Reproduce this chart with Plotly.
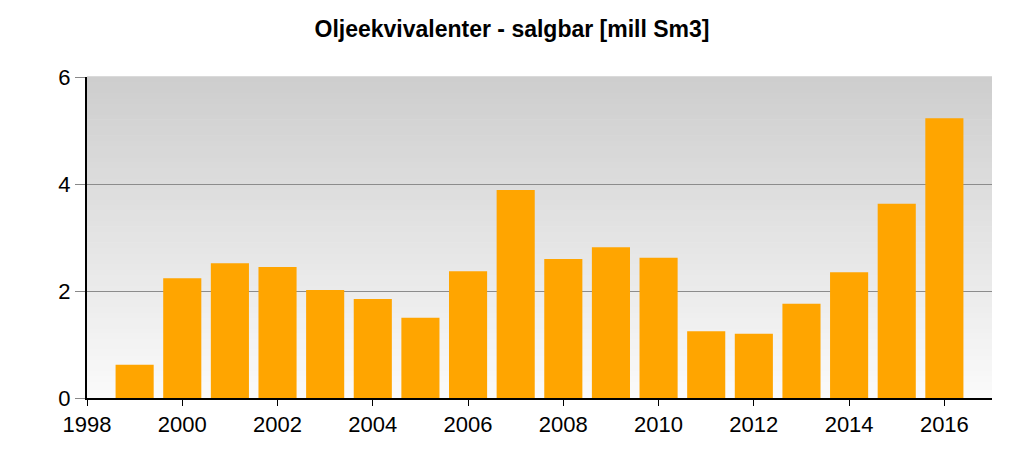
import plotly.graph_objects as go

years = list(range(1999, 2017))
values = [0.62, 2.24, 2.52, 2.45, 2.02, 1.85, 1.50, 2.37, 3.89, 2.60, 2.82, 2.62, 1.25, 1.20, 1.76, 2.35, 3.63, 5.23]
x_ticks = list(range(1998, 2017, 2))
y_ticks = [0, 2, 4, 6]
title = "Oljeekvivalenter - salgbar [mill Sm3]"

fig = go.Figure()
fig.add_trace(go.Bar(x=years, y=values, width=0.8,
                     marker=dict(color="#FFA500", line=dict(width=0))))

# gradient background
n = 60
top = (206, 206, 206)
bot = (250, 250, 250)
shapes = []
for i in range(n):
    t = i / (n - 1)
    c = tuple(int(round(bot[k] + (top[k] - bot[k]) * t)) for k in range(3))
    shapes.append(dict(type="rect", xref="x domain", yref="y domain",
                       x0=0, x1=1, y0=i / n, y1=(i + 1) / n + 0.002,
                       fillcolor="rgb(%d,%d,%d)" % c, line=dict(width=0), layer="below"))

fig.update_layout(
    shapes=shapes,
    width=1024, height=465,
    margin=dict(l=87, r=32, t=77, b=67, autoexpand=False),
    paper_bgcolor="white", plot_bgcolor="rgba(0,0,0,0)",
    title=dict(text="<b>" + title + "</b>", x=0.5, xanchor="center", y=0.937, yanchor="middle",
               font=dict(family="Liberation Sans, Arial", size=23, color="black")),
    font=dict(family="Liberation Sans, Arial", size=22, color="black"),
    showlegend=False,
)
fig.update_xaxes(range=[1998, 2017], tickvals=x_ticks, ticks="outside", ticklen=6,
                 tickcolor="black", showline=True, linecolor="black", linewidth=2,
                 showgrid=False, zeroline=False, tickfont=dict(size=22), automargin=False)
fig.update_yaxes(range=[0, 6], tickvals=y_ticks, ticks="outside", ticklen=10,
                 tickcolor="#888888", showline=True, linecolor="black", linewidth=2,
                 showgrid=True, gridcolor="#8c8c8c", gridwidth=1, zeroline=False,
                 tickfont=dict(size=22), layer="below traces", automargin=False)

fig.write_html("out.html", config={"displayModeBar": False},
               post_script="document.body.style.margin='0';")
